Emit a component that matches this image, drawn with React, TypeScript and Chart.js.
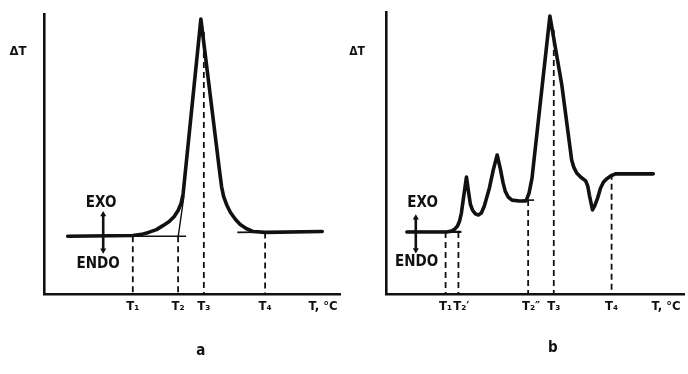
import React, { useEffect, useRef } from "react";
import { Chart, registerables } from "chart.js";
Chart.register(...registerables);

// ---------- Panel a data ----------
const tickLabelsA = ["T₁", "T₂", "T₃", "T₄", "T, °C"];
const tickValuesA = [30, 45.3, 54, 74.7, 94.3];
const curveAX = [8, 30, 33, 35.3, 38, 40.3, 42.3, 44, 45.3, 46.3, 47, 53, 59.3, 60, 60.7, 61.7, 63, 64.7, 66.3, 68.3, 70.7, 74.7, 94];
const curveAY = [20.6, 20.9, 21.3, 22.0, 23.0, 24.5, 25.9, 27.7, 29.8, 32.3, 35.8, 98.2, 44.0, 38.3, 34.8, 31.9, 29.1, 26.6, 24.8, 23.4, 22.3, 22.0, 22.3];
const baseLeftAX = [8, 48];
const baseLeftAY = [20.6, 20.6];
const tangentAX = [45.3, 47.3];
const tangentAY = [20.2, 35.1];
const baseRightAX = [65.3, 94];
const baseRightAY = [22.0, 22.3];
const dashAX = [30, 45.3, 54, 74.7];
const dashATop = [20.6, 20.6, 93.6, 22.0];
const arrowAX = [20, 20];
const arrowAY = [28.4, 15.6];

// ---------- Panel b data ----------
const tickLabelsB = ["T₁", "\u2002T₂′", "\u2002T₂″", "T₃", "T₄", "T, °C"];
const tickValuesB = [20, 24.3, 47.7, 56.3, 75.7, 94];
const curveBX = [7, 20.3, 22, 23, 24, 24.7, 25.3, 26, 27, 27.7, 28.3, 29, 30, 31, 32, 33, 34.7, 36, 37.3, 38.3, 39.3, 40, 41, 42.3, 44.7, 47, 48, 49, 55, 59, 62.3, 63, 64, 65.3, 67, 67.7, 68.3, 69.3, 70, 71, 72, 73, 74, 75.3, 77, 89.7];
const curveBY = [22.0, 22.0, 22.3, 23.0, 24.1, 25.9, 28.7, 34.0, 41.5, 36.2, 31.9, 29.8, 28.4, 28.0, 28.7, 31.2, 37.6, 44.0, 49.3, 44.7, 39.4, 36.5, 34.4, 33.3, 33.0, 33.0, 35.8, 41.1, 98.6, 74.1, 47.5, 45.0, 42.9, 41.5, 40.1, 38.3, 34.8, 29.8, 31.2, 34.0, 37.6, 39.7, 40.8, 41.8, 42.6, 42.6];
const baseLeftBX = [7, 25.3];
const baseLeftBY = [22.0, 22.0];
const crossBX = [45.7, 49.7];
const crossBY = [33.3, 33.3];
const dashBX = [20, 24.3, 47.7, 56.3, 75.7];
const dashBTop = [22.0, 22.0, 33.3, 93.6, 42.6];
const arrowBX = [10, 10];
const arrowBY = [27.0, 15.6];

const INK = "#111";
const FONT = "'DejaVu Sans Condensed', 'Liberation Sans Narrow', 'DejaVu Sans', sans-serif";

const textPlugin = {
  id: "texts",
  afterDraw(chart: any, _args: any, opts: any) {
    const { ctx, scales, chartArea } = chart;
    const x = scales.x, y = scales.y;
    ctx.save();
    ctx.fillStyle = INK;
    ctx.textAlign = "center";
    ctx.textBaseline = "middle";
    for (const t of opts.items || []) {
      ctx.font = t.font;
      const px = t.xv !== undefined ? x.getPixelForValue(t.xv) : chartArea.left + t.dx;
      const py = t.yv !== undefined ? y.getPixelForValue(t.yv) : t.py;
      ctx.fillText(t.text, px, py);
    }
    ctx.restore();
  },
};

function line(xs: number[], ys: number[], width: number, extra: any = {}) {
  return {
    data: xs.map((v, i) => ({ x: v, y: ys[i] })),
    borderColor: INK,
    backgroundColor: INK,
    borderWidth: width,
    pointRadius: 0,
    fill: false,
    tension: 0,
    ...extra,
  };
}

function dashes(xs: number[], tops: number[]) {
  return xs.map((v, i) => line([v, v], [tops[i], 0], 1.8, { borderDash: [6, 4] }));
}

function arrow(xs: number[], ys: number[]) {
  return line(xs, ys, 2.6, {
    pointRadius: 3.5,
    pointStyle: "triangle",
    pointRotation: [0, 180],
    pointBorderWidth: 0,
  });
}

function Panel(props: any) {
  const ref = useRef<HTMLCanvasElement>(null);
  useEffect(() => {
    const { datasets, tickValues, tickLabels, yWidth, padTop, padRight, texts } = props;
    const chart = new Chart(ref.current as HTMLCanvasElement, {
      type: "line",
      data: { datasets },
      options: {
        animation: false,
        responsive: false,
        devicePixelRatio: 1,
        layout: { padding: { top: padTop, right: padRight, left: 0, bottom: 0 } },
        plugins: { legend: { display: false }, tooltip: { enabled: false }, texts: { items: texts } } as any,
        scales: {
          x: {
            type: "linear",
            min: 0,
            max: 100,
            grid: { display: false, drawTicks: false },
            border: { display: true, color: INK, width: 2.6 },
            afterBuildTicks: (s: any) => {
              s.ticks = tickValues.map((v: number) => ({ value: v }));
            },
            afterFit: (s: any) => {
              s.height = 80;
            },
            ticks: {
              autoSkip: false,
              maxRotation: 0,
              minRotation: 0,
              padding: 5,
              color: INK,
              font: { family: FONT, size: 13, weight: "bold" },
              callback: (_v: any, i: number) => tickLabels[i],
            },
          },
          y: {
            type: "linear",
            min: 0,
            max: 100,
            grid: { display: false, drawTicks: false },
            border: { display: true, color: INK, width: 2.6 },
            ticks: { display: false },
            afterFit: (s: any) => {
              s.width = yWidth;
            },
          },
        },
      } as any,
      plugins: [textPlugin],
    });
    return () => chart.destroy();
  }, []);
  return (
    <canvas
      ref={ref}
      width={344}
      height={374}
      style={{ position: "absolute", left: props.left, top: 0, width: 344, height: 374 }}
    />
  );
}

export default function App() {
  const curveStyle = { borderJoinStyle: "round", borderCapStyle: "round" };
  const dsA = [
    line(curveAX, curveAY, 3.6, curveStyle),
    line(baseLeftAX, baseLeftAY, 1.6),
    line(tangentAX, tangentAY, 1.4),
    line(baseRightAX, baseRightAY, 1.6),
    ...dashes(dashAX, dashATop),
    arrow(arrowAX, arrowAY),
  ];
  const dsB = [
    line(curveBX, curveBY, 3.6, curveStyle),
    line(baseLeftBX, baseLeftBY, 2.2),
    line(crossBX, crossBY, 1.6),
    ...dashes(dashBX, dashBTop),
    arrow(arrowBX, arrowBY),
  ];
  const textsA = [
    { text: "ΔT", font: `bold 13px ${FONT}`, dx: -26, py: 52 },
    { text: "EXO", font: `bold 15px ${FONT}`, xv: 19.3, yv: 32.6 },
    { text: "ENDO", font: `bold 15px ${FONT}`, xv: 18.3, yv: 10.8 },
    { text: "a", font: `bold 15px ${FONT}`, xv: 53, py: 351 },
  ];
  const textsB = [
    { text: "ΔT", font: `bold 12px ${FONT}`, dx: -29, py: 52 },
    { text: "EXO", font: `bold 15px ${FONT}`, xv: 12.3, yv: 32.3 },
    { text: "ENDO", font: `bold 15px ${FONT}`, xv: 10.3, yv: 11.3 },
    { text: "b", font: `bold 15px ${FONT}`, xv: 56, py: 348 },
  ];
  return (
    <div style={{ position: "fixed", left: 0, top: 0, width: 688, height: 374, background: "#fff" }}>
      <Panel left={0} datasets={dsA} tickValues={tickValuesA} tickLabels={tickLabelsA} yWidth={44} padTop={14} padRight={0} texts={textsA} />
      <Panel left={344} datasets={dsB} tickValues={tickValuesB} tickLabels={tickLabelsB} yWidth={42} padTop={12} padRight={2} texts={textsB} />
    </div>
  );
}
